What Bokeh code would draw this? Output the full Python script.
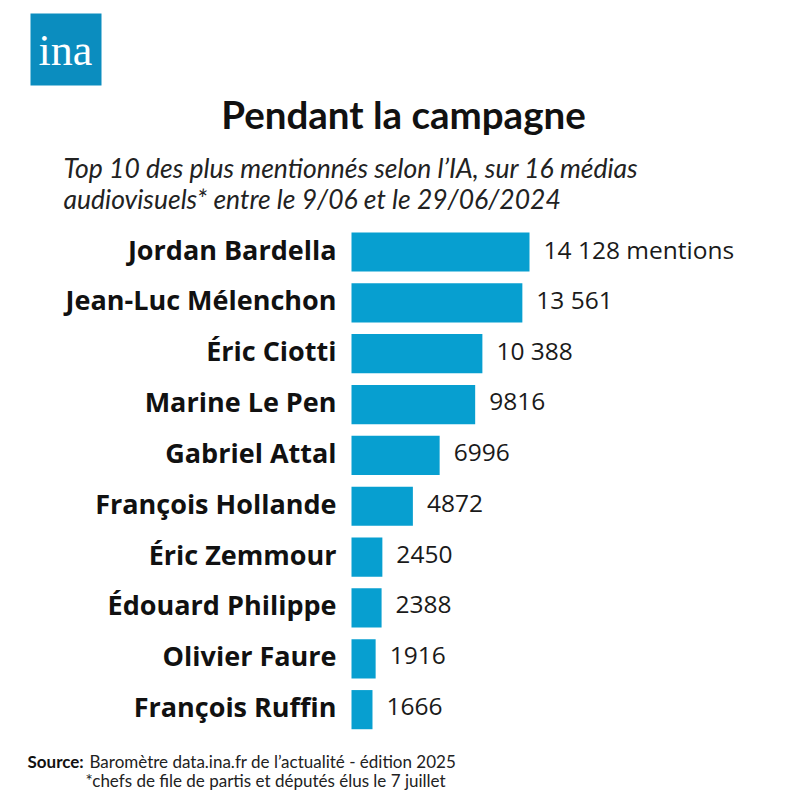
from bokeh.plotting import figure
from bokeh.models import Range1d, Label, BoxAnnotation, ColumnDataSource
from bokeh.embed import file_html
from bokeh.resources import INLINE
from bokeh.core.properties import value

# Top 10 most mentioned personalities (AI detection), 9/06 - 29/06/2024
names = [
    "Jordan Bardella", "Jean-Luc Mélenchon", "Éric Ciotti", "Marine Le Pen",
    "Gabriel Attal", "François Hollande", "Éric Zemmour", "Édouard Philippe",
    "Olivier Faure", "François Ruffin",
]
mentions = [14128, 13561, 10388, 9816, 6996, 4872, 2450, 2388, 1916, 1666]
value_labels = ["14 128 mentions", "13 561", "10 388", "9816", "6996",
                "4872", "2450", "2388", "1916", "1666"]

BAR_COLOR = "#079fd0"
LOGO_COLOR = "#0b8dbf"

W, H = 800, 800
px_per_unit = 178 / 14128          # horizontal scale of the bars
bar_left_px = 351
row0_px, row_step = 251.5, 50.85   # vertical placement of the rows

src = ColumnDataSource(dict(
    row=list(range(len(names))),
    name=names,
    mentions=mentions,
    label=value_labels,
    zero=[0] * len(names),
))

p = figure(
    width=W, height=H, output_backend="svg", toolbar_location=None,
    x_range=Range1d(-bar_left_px / px_per_unit, (W - bar_left_px) / px_per_unit),
    y_range=Range1d((H - row0_px) / row_step, -row0_px / row_step),
    min_border=0, outline_line_color=None, background_fill_color="white",
    border_fill_color="white",
)
p.xaxis.visible = False
p.yaxis.visible = False
p.xgrid.visible = False
p.ygrid.visible = False

p.hbar(y="row", left="zero", right="mentions", height=0.77, source=src,
       fill_color=BAR_COLOR, line_color=None)

p.text(x="zero", y="row", text="name", source=src, x_offset=-15, y_offset=-3,
       text_align="right", text_baseline="middle",
       text_font=value("Open Sans"), text_font_style="bold",
       text_font_size="27px", text_color="#111111")

p.text(x="mentions", y="row", text="label", source=src, x_offset=14, y_offset=-3,
       text_align="left", text_baseline="middle",
       text_font=value("Open Sans"), text_font_size="24.5px",
       text_color="#1a1a1a")

# ina logo
p.add_layout(BoxAnnotation(left=30, right=101, top=H - 13, bottom=H - 85,
                           left_units="screen", right_units="screen",
                           top_units="screen", bottom_units="screen",
                           fill_color=LOGO_COLOR, fill_alpha=1, line_color=None))
p.add_layout(Label(x=65, y=H - 50, x_units="screen", y_units="screen",
                   text="ina", text_align="center", text_baseline="middle",
                   text_font="Liberation Serif", text_font_size="44px",
                   text_color="white"))

# title and subtitle
p.add_layout(Label(x=403, y=H - 113, x_units="screen", y_units="screen",
                   text="Pendant la campagne", text_align="center",
                   text_baseline="middle", text_font="Lato",
                   text_font_style="bold", text_font_size="38.5px",
                   text_color="#111111"))
for i, line in enumerate(["Top 10 des plus mentionnés selon l’IA, sur 16 médias",
                          "audiovisuels* entre le 9/06 et le 29/06/2024"]):
    p.add_layout(Label(x=63, y=H - 167 - 31 * i, x_units="screen", y_units="screen",
                       text=line, text_align="left", text_baseline="middle",
                       text_font="Lato", text_font_style="italic",
                       text_font_size="26.5px", text_color="#222222"))

# source notes
p.add_layout(Label(x=27, y=H - 761, x_units="screen", y_units="screen",
                   text="Source:", text_align="left", text_baseline="middle",
                   text_font="Lato", text_font_style="bold",
                   text_font_size="17px", text_color="#111111"))
p.add_layout(Label(x=89, y=H - 761, x_units="screen", y_units="screen",
                   text="Baromètre data.ina.fr de l’actualité - édition 2025",
                   text_align="left", text_baseline="middle",
                   text_font="Lato", text_font_size="17px", text_color="#222222"))
p.add_layout(Label(x=85, y=H - 780, x_units="screen", y_units="screen",
                   text="*chefs de file de partis et députés élus le 7 juillet",
                   text_align="left", text_baseline="middle",
                   text_font="Lato", text_font_size="17px", text_color="#222222"))

open("out.html", "w").write(file_html(p, INLINE))
